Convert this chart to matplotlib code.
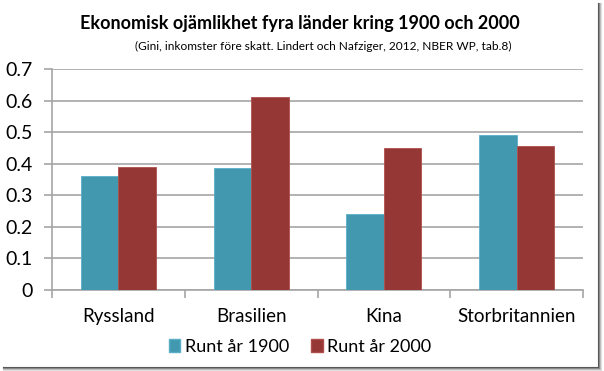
import matplotlib.pyplot as plt
import numpy as np
from matplotlib.lines import Line2D
from matplotlib.patches import Patch

countries = ['Ryssland', 'Brasilien', 'Kina', 'Storbritannien']
gini_1900 = [0.36, 0.385, 0.24, 0.49]
gini_2000 = [0.39, 0.61, 0.45, 0.455]
series_names = ['Runt år 1900', 'Runt år 2000']
y_ticks = [0, 0.1, 0.2, 0.3, 0.4, 0.5, 0.6, 0.7]

teal = '#4198AF'
red = '#953735'
grid_gray = '#A6A6A6'

plt.rcParams['font.family'] = ['Lato', 'DejaVu Sans']

fig = plt.figure(figsize=(6.04, 3.71), dpi=100)
ax = fig.add_axes([52 / 604, 1 - 290 / 371, 531 / 604, 221 / 371])

x = np.arange(len(countries))
w = 0.283
ax.bar(x - w / 2, gini_1900, w, color=teal, edgecolor='#5AAFC6', linewidth=0.6, zorder=3)
ax.bar(x + w / 2, gini_2000, w, color=red, edgecolor='#B04E4B', linewidth=0.6, zorder=3)

ax.set_xlim(-0.5, len(countries) - 0.5)
ax.set_ylim(0, 0.7)
ax.set_yticks(y_ticks)
ax.set_yticklabels(['0' if t == 0 else f'{t:.1f}' for t in y_ticks], fontsize=14)
ax.yaxis.grid(True, color=grid_gray, linewidth=1.2, zorder=0)

# category labels centred, tick marks at the group boundaries
ax.set_xticks(x)
ax.set_xticklabels(countries, fontsize=13.5)
ax.tick_params(axis='x', length=0, pad=13)
ax.set_xticks(np.arange(len(countries) + 1) - 0.5, minor=True)
ax.tick_params(axis='x', which='minor', length=6, color=grid_gray, width=1.2)
ax.tick_params(axis='y', length=6, color=grid_gray, width=1.2, pad=8)

for s in ['top', 'right']:
    ax.spines[s].set_visible(False)
for s in ['left', 'bottom']:
    ax.spines[s].set_color(grid_gray)
    ax.spines[s].set_linewidth(1.2)

fig.text(0.497, 1 - 23 / 371, 'Ekonomisk ojämlikhet fyra länder kring 1900 och 2000',
         ha='center', va='center', fontsize=13, fontweight='bold')
fig.text(323 / 604, 1 - 46 / 371, '(Gini, inkomster före skatt. Lindert och Nafziger, 2012, NBER WP, tab.8)',
         ha='center', va='center', fontsize=8.6)

handles = [Patch(facecolor=teal, edgecolor='#5AAFC6'), Patch(facecolor=red, edgecolor='#B04E4B')]
fig.legend(handles, series_names, loc='center', bbox_to_anchor=(300 / 604, 1 - 347 / 371),
           ncol=2, frameon=False, fontsize=13, handlelength=0.65, handleheight=0.75,
           handletextpad=0.25, columnspacing=1.2)

# frame with drop shadow on the right and bottom
shades = ['#555555', '#888888', '#BBBBBB', '#E0E0E0']
for i, c in enumerate(shades):
    fig.add_artist(Line2D([3 / 604, (598 + i) / 604], [1 - (367 + i) / 371] * 2,
                          color=c, linewidth=0.8, transform=fig.transFigure))
    fig.add_artist(Line2D([(598 + i) / 604] * 2, [1 - (367 + i) / 371, 1 - 3 / 371],
                          color=c, linewidth=0.8, transform=fig.transFigure))

fig.savefig('out.png', dpi=100)
